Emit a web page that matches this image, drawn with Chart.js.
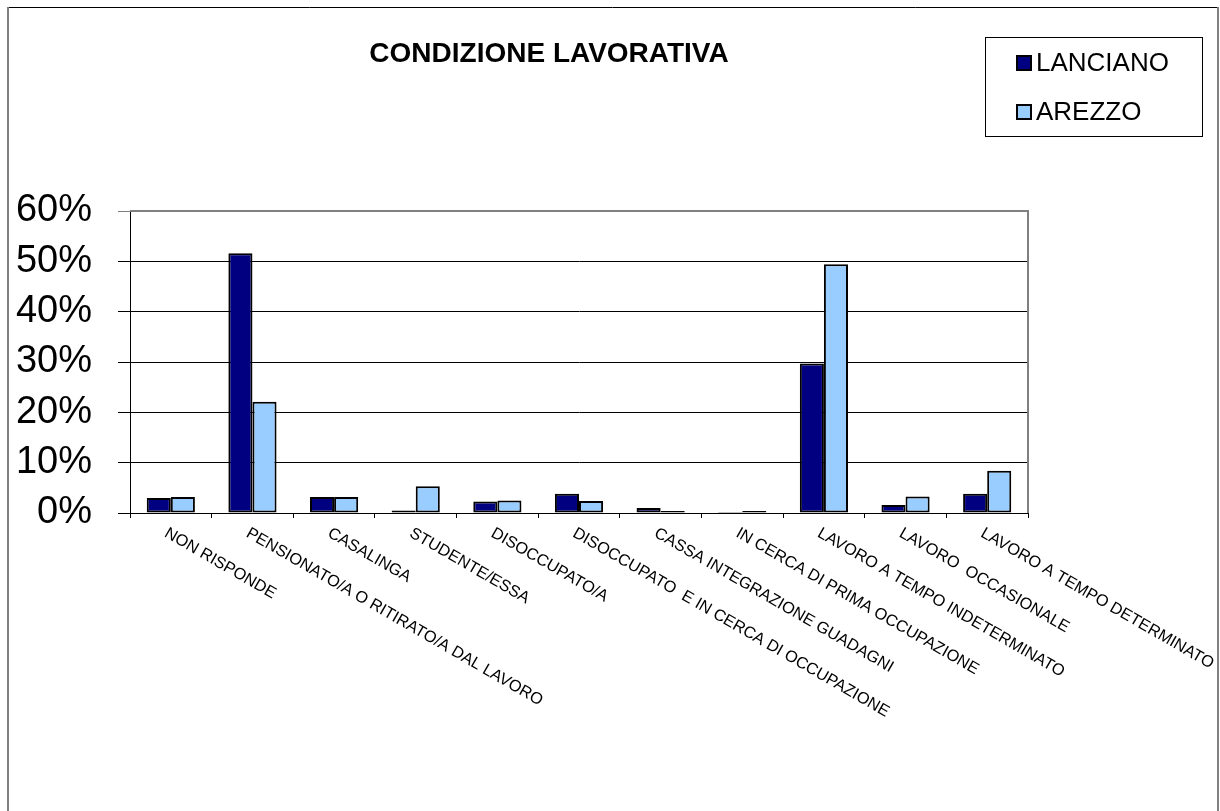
<!DOCTYPE html>
<html>
<head>
<meta charset="utf-8">
<script src="https://cdn.jsdelivr.net/npm/chart.js@4.4.1/dist/chart.umd.min.js"></script>
<style>
  html, body { margin: 0; padding: 0; background: #fff; }
  #c { display: block; }
</style>
</head>
<body>
<canvas id="c" width="1220" height="811"></canvas>
<script>
const categories = [
  "NON RISPONDE",
  "PENSIONATO/A O RITIRATO/A DAL LAVORO",
  "CASALINGA",
  "STUDENTE/ESSA",
  "DISOCCUPATO/A",
  "DISOCCUPATO  E IN CERCA DI OCCUPAZIONE",
  "CASSA INTEGRAZIONE GUADAGNI",
  "IN CERCA DI PRIMA OCCUPAZIONE",
  "LAVORO A TEMPO INDETERMINATO",
  "LAVORO  OCCASIONALE",
  "LAVORO A TEMPO DETERMINATO"
];
const lanciano = [3.0, 51.6, 3.2, 0.5, 2.3, 3.8, 1.0, 0.2, 29.7, 1.6, 3.8];
const arezzo   = [3.2, 22.1, 3.2, 5.3, 2.5, 2.4, 0.4, 0.4, 49.4, 3.3, 8.4];
const yTicks = [0, 10, 20, 30, 40, 50, 60];
const chartTitle = "CONDIZIONE LAVORATIVA";

const FONT = "'Liberation Sans', Arial, sans-serif";

const decor = {
  id: 'decor',
  afterDraw(chart) {
    const ctx = chart.ctx;
    const ca = chart.chartArea;
    ctx.save();
    // outer frame
    ctx.strokeStyle = '#000';
    ctx.lineWidth = 1;
    ctx.beginPath(); ctx.moveTo(7, 7.5); ctx.lineTo(1218, 7.5); ctx.stroke();
    ctx.strokeStyle = '#808080';
    ctx.lineWidth = 2;
    ctx.beginPath(); ctx.moveTo(8, 7); ctx.lineTo(8, 811); ctx.stroke();
    ctx.beginPath(); ctx.moveTo(1218, 7); ctx.lineTo(1218, 811); ctx.stroke();

    // plot area top & right border (grey)
    ctx.strokeStyle = '#808080';
    ctx.lineWidth = 2;
    ctx.beginPath();
    ctx.moveTo(ca.left, ca.top);
    ctx.lineTo(ca.right, ca.top);
    ctx.lineTo(ca.right, ca.bottom);
    ctx.stroke();

    // title
    ctx.fillStyle = '#000';
    ctx.font = "bold 28px " + FONT;
    ctx.textAlign = 'center';
    ctx.textBaseline = 'middle';
    ctx.fillText(chartTitle, 549, 54);

    // rotated category labels
    const xs = chart.scales.x;
    ctx.font = "16.3px " + FONT;
    ctx.textAlign = 'left';
    ctx.textBaseline = 'top';
    chart.data.labels.forEach((lab, i) => {
      const px = xs.getPixelForValue(i);
      ctx.save();
      ctx.translate(px - 1, ca.bottom + 12);
      ctx.rotate(Math.PI / 6);
      ctx.fillText(lab, 0, 0);
      ctx.restore();
    });

    // legend box
    ctx.strokeStyle = '#000';
    ctx.lineWidth = 1;
    ctx.strokeRect(985.5, 37.5, 217, 99);
    ctx.font = "26px " + FONT;
    ctx.textBaseline = 'middle';
    const ys = [63, 112];
    chart.data.datasets.forEach((ds, i) => {
      ctx.fillStyle = ds.backgroundColor;
      ctx.fillRect(1017, ys[i] - 7, 14, 14);
      ctx.strokeStyle = '#000';
      ctx.lineWidth = 2;
      ctx.strokeRect(1017, ys[i] - 7, 14, 14);
      ctx.fillStyle = '#000';
      ctx.fillText(ds.label, 1036, ys[i] + 1);
    });
    ctx.restore();
  }
};

new Chart(document.getElementById('c'), {
  type: 'bar',
  data: {
    labels: categories,
    datasets: [
      { label: 'LANCIANO', data: lanciano, backgroundColor: '#000080', borderColor: '#000', borderWidth: 2, borderSkipped: false },
      { label: 'AREZZO', data: arezzo, backgroundColor: '#99CCFF', borderColor: '#000', borderWidth: 2, borderSkipped: false }
    ]
  },
  options: {
    responsive: false,
    animation: false,
    devicePixelRatio: 1,
    layout: { padding: { top: 211, right: 192, left: 0, bottom: 0 } },
    plugins: {
      legend: { display: false },
      title: { display: false },
      tooltip: { enabled: false }
    },
    datasets: { bar: { categoryPercentage: 0.59, barPercentage: 1.0 } },
    scales: {
      x: {
        grid: { display: true, drawOnChartArea: false, drawTicks: true, tickLength: 5, color: '#000', offset: true },
        border: { display: true, color: '#000', width: 1 },
        ticks: { display: false },
        afterFit(s) { s.height = 298; }
      },
      y: {
        min: 0,
        max: 60,
        afterBuildTicks(s) { s.ticks = yTicks.map(v => ({ value: v })); },
        grid: {
          color: (c) => (c.tick && c.tick.value === 60) ? '#808080' : '#000',
          tickLength: 12,
          drawTicks: true
        },
        border: { display: true, color: '#000', width: 1 },
        ticks: {
          padding: 26,
          color: '#000',
          font: { family: FONT, size: 38 },
          callback: (v) => v + '%'
        },
        afterFit(s) { s.width = 130; }
      }
    }
  },
  plugins: [decor]
});
</script>
</body>
</html>
